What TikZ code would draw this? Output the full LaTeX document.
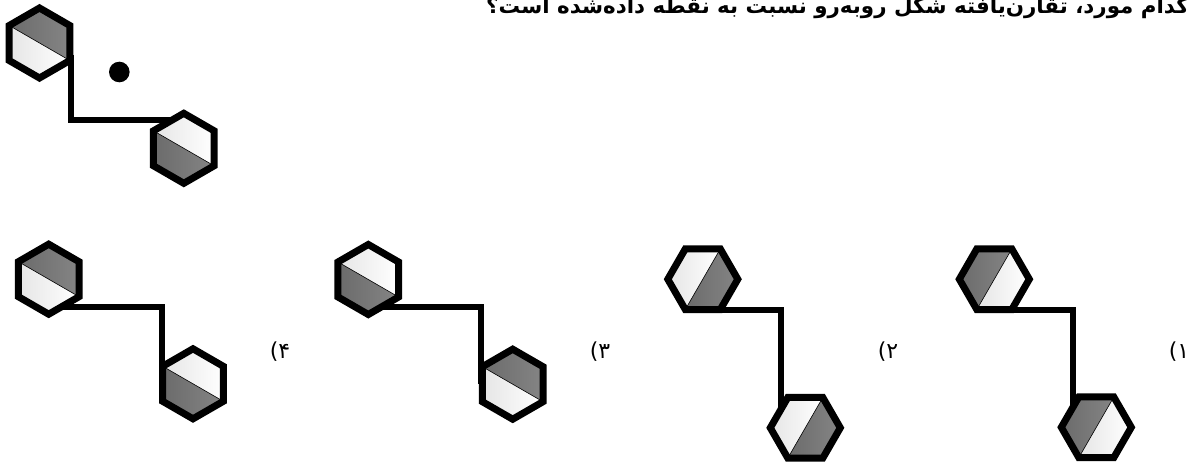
\documentclass[tikz,border=0pt]{standalone}
\usepackage{fontspec}
\usetikzlibrary{calc}
\newfontfamily\arabicfont[Script=Arabic]{DejaVu Sans}
\newfontfamily\parenfont{DejaVu Sans}
\TeXXeTstate=1
\def\hexR{35pt}
\tikzset{
  hexborder/.style={draw=black,line width=7pt,line join=miter},
  splitline/.style={draw=black,line width=0.6pt},
  lightpart/.style={left color=black!10,right color=white},
  darkpart/.style={left color=black!58,right color=black!48},
  conn/.style={draw=black,line width=6pt,line join=miter},
  optlabel/.style={font=\fontsize{22}{24}\selectfont,inner sep=0pt},
  titletext/.style={font=\arabicfont\bfseries\fontsize{21.4}{26}\selectfont,inner sep=0pt}
}
\newcommand\optnum[1]{{\parenfont(}{\arabicfont #1}}
\newcommand\hexcell[3]{%
  \begin{scope}[shift={(#1)}]
    \shade[lightpart] (#2+180:\hexR) -- (#2+240:\hexR) -- (#2+300:\hexR) -- (#2+360:\hexR) -- cycle;
    \shade[darkpart] (#2:\hexR) -- (#2+60:\hexR) -- (#2+120:\hexR) -- (#2+180:\hexR) -- cycle;
    \draw[splitline] (#2:\hexR) -- (#2+180:\hexR);
    \draw[hexborder] (#3:\hexR) -- (#3+60:\hexR) -- (#3+120:\hexR) -- (#3+180:\hexR) -- (#3+240:\hexR) -- (#3+300:\hexR) -- cycle;
  \end{scope}}
\begin{document}
\begin{tikzpicture}[x=1pt,y=1pt]
\useasboundingbox (0,-463) rectangle (1196,0);
\clip (0,-463) rectangle (1196,0);
\fill[white] (0,-463) rectangle (1196,0);

% title
\node[titletext,anchor=base east] (T) at (1189,-13.5) {\beginR کدام مورد، تقارن‌یافته شکل روبه‌رو نسبت به نقطه داده‌شده است؟\endR};

% ---------- given figure ----------
\coordinate (O1) at (39.5,-43);
\coordinate (O2) at (183.8,-148.3);
\coordinate (O1s) at (71,-55);
\coordinate (O1k) at (71,-120);
\coordinate (O2e) at (184,-120);
\draw[conn] (O1s) -- (O1k) -- (O2e);
\hexcell{O1}{-30}{30}
\hexcell{O2}{150}{30}
\coordinate (P) at (119.3,-72);
\fill[black] (P) circle (10.3pt);

% ---------- option 4 ----------
\coordinate (A4) at (48.7,-279.2);
\coordinate (B4) at (193,-383.8);
\coordinate (A4s) at (48.7,-306.7);
\coordinate (A4k) at (161.7,-306.7);
\coordinate (B4e) at (161.7,-384);
\draw[conn] (A4s) -- (A4k) -- (B4e);
\hexcell{A4}{-30}{30}
\hexcell{B4}{150}{30}
\node[optlabel] (L4) at (280,-352) {\optnum{۴}};

% ---------- option 3 ----------
\coordinate (A3) at (368.3,-279.5);
\coordinate (B3) at (512.7,-384.2);
\coordinate (A3s) at (368.3,-307.3);
\coordinate (A3k) at (481,-307.3);
\coordinate (B3e) at (481,-384);
\draw[conn] (A3s) -- (A3k) -- (B3e);
\hexcell{A3}{150}{30}
\hexcell{B3}{-30}{30}
\node[optlabel] (L3) at (600,-352) {\optnum{۳}};

% ---------- option 2 ----------
\coordinate (A2) at (702.8,-279.2);
\coordinate (B2) at (805.3,-427.8);
\coordinate (A2s) at (702.8,-310.2);
\coordinate (A2k) at (780.7,-310.2);
\coordinate (B2e) at (780.7,-420);
\draw[conn] (A2s) -- (A2k) -- (B2e);
\hexcell{A2}{240}{0}
\hexcell{B2}{240}{0}
\node[optlabel] (L2) at (888,-352) {\optnum{۲}};

% ---------- option 1 ----------
\coordinate (A1) at (994.3,-279.2);
\coordinate (B1) at (1096.3,-427.3);
\coordinate (A1s) at (994.3,-310.2);
\coordinate (A1k) at (1072.7,-310.2);
\coordinate (B1e) at (1072.7,-420);
\draw[conn] (A1s) -- (A1k) -- (B1e);
\hexcell{A1}{60}{0}
\hexcell{B1}{60}{0}
\node[optlabel] (L1) at (1179,-352) {\optnum{۱}};
\end{tikzpicture}
\end{document}
